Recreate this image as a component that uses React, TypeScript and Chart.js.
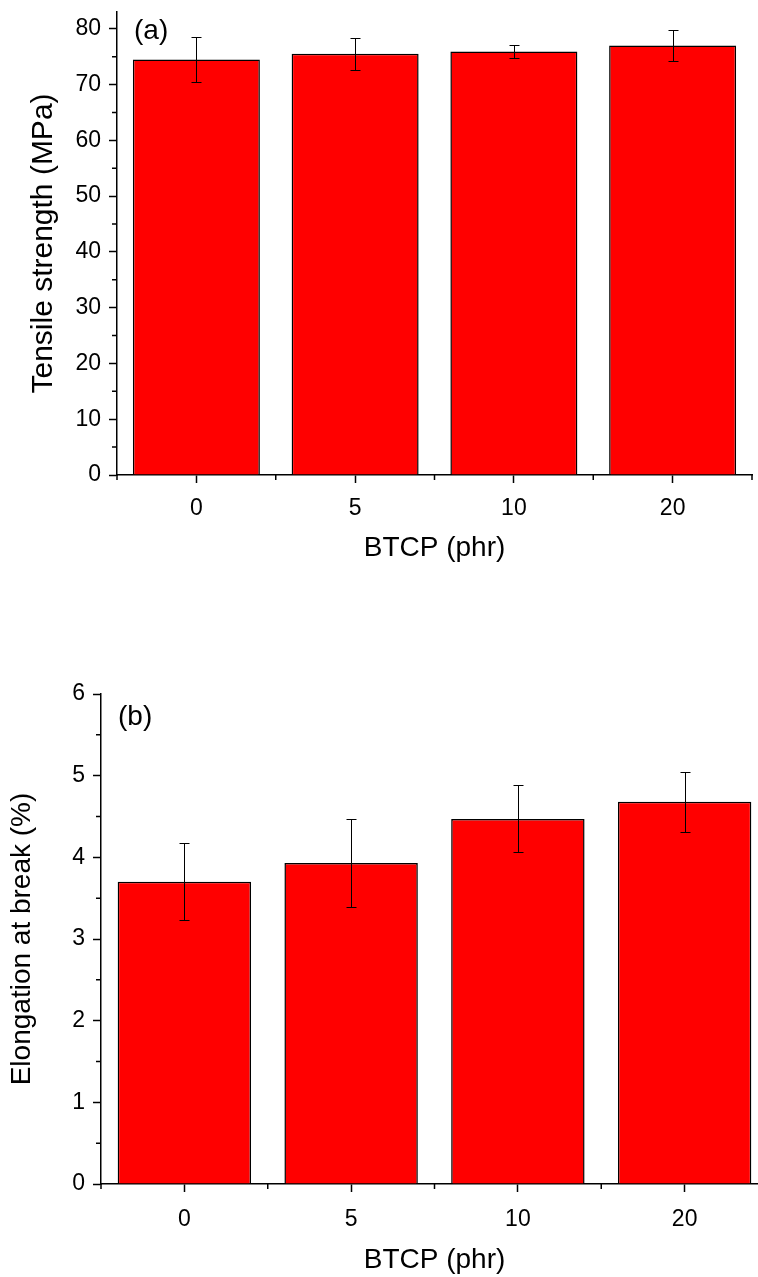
import React, { useEffect, useRef } from "react";
import { Chart, registerables } from "chart.js";

Chart.register(...registerables);

// ---- Data ----
const categories: string[] = ["0", "5", "10", "20"];
const tensileStrength: number[] = [74.5, 75.5, 75.9, 77.0];
const tensileError: number[] = [4.1, 2.85, 1.1, 2.7];
const elongation: number[] = [3.7, 3.93, 4.47, 4.68];
const elongationError: number[] = [0.47, 0.54, 0.41, 0.37];

const xTitle = "BTCP (phr)";
const yTitleA = "Tensile strength (MPa)";
const yTitleB = "Elongation at break (%)";
const panelA = "(a)";
const panelB = "(b)";

const FONT = "'Liberation Sans', Arial, Helvetica, sans-serif";

const errorBarPlugin: any = {
  id: "errorBars",
  afterDatasetsDraw(chart: any, _args: any, opts: any) {
    const errs: number[] = opts.errors;
    if (!errs) return;
    const meta = chart.getDatasetMeta(0);
    const yScale = chart.scales.y;
    const ctx = chart.ctx;
    const data = chart.data.datasets[0].data;
    ctx.save();
    ctx.strokeStyle = "#000";
    ctx.lineWidth = 1;
    meta.data.forEach((bar: any, i: number) => {
      const v = data[i];
      const e = errs[i];
      const x = Math.round(bar.x) + 0.5;
      const yt = Math.round(yScale.getPixelForValue(v + e)) + 0.5;
      const yb = Math.round(yScale.getPixelForValue(v - e)) + 0.5;
      ctx.beginPath();
      ctx.moveTo(x, yt);
      ctx.lineTo(x, yb);
      ctx.moveTo(x - 5, yt);
      ctx.lineTo(x + 5, yt);
      ctx.moveTo(x - 5, yb);
      ctx.lineTo(x + 5, yb);
      ctx.stroke();
    });
    ctx.restore();
  },
};

const minorTickPlugin: any = {
  id: "minorTicks",
  afterDraw(chart: any, _args: any, opts: any) {
    const { x, y } = chart.scales;
    const area = chart.chartArea;
    const ctx = chart.ctx;
    ctx.save();
    ctx.strokeStyle = "#000";
    ctx.lineWidth = 1.5;
    ctx.beginPath();
    const step = opts.yStep;
    for (let v = y.min + step / 2; v < y.max; v += step) {
      const py = y.getPixelForValue(v);
      ctx.moveTo(area.left - 5, py);
      ctx.lineTo(area.left, py);
    }
    const n = chart.data.labels.length;
    for (let i = 0; i <= n; i++) {
      const px = x.getPixelForValue(i - 0.5);
      ctx.moveTo(px, area.bottom);
      ctx.lineTo(px, area.bottom + 5);
    }
    ctx.stroke();
    ctx.restore();
  },
};

const panelLabelPlugin: any = {
  id: "panelLabel",
  afterDraw(chart: any, _args: any, opts: any) {
    const area = chart.chartArea;
    const ctx = chart.ctx;
    ctx.save();
    ctx.fillStyle = "#000";
    ctx.font = `28px ${FONT}`;
    ctx.textBaseline = "top";
    ctx.textAlign = "left";
    ctx.fillText(opts.text, area.left + 17, area.top + opts.dy);
    ctx.restore();
  },
};

function makeConfig(p: any): any {
  const gridOpts = {
    display: true,
    drawOnChartArea: false,
    drawTicks: true,
    tickLength: 8,
    tickWidth: 1.5,
    tickColor: "#000",
    color: "#000",
  };
  return {
    type: "bar",
    data: {
      labels: categories,
      datasets: [
        {
          data: p.values,
          backgroundColor: "#ff0000",
          borderColor: "#000",
          borderWidth: 1.5,
          barPercentage: 0.8,
          categoryPercentage: 1.0,
        },
      ],
    },
    options: {
      responsive: false,
      animation: false,
      layout: { padding: p.padding },
      plugins: {
        legend: { display: false },
        tooltip: { enabled: false },
        errorBars: { errors: p.errors },
        minorTicks: { yStep: p.yStep },
        panelLabel: { text: p.panel, dy: p.panelDy },
      },
      scales: {
        x: {
          type: "category",
          offset: true,
          grid: { ...gridOpts, offset: false },
          border: { display: true, color: "#000", width: 1.5 },
          ticks: {
            color: "#000",
            font: { family: FONT, size: 23, lineHeight: 1 },
            padding: p.xTickPad,
            maxRotation: 0,
            autoSkip: false,
          },
          title: {
            display: true,
            text: xTitle,
            color: "#000",
            font: { family: FONT, size: 28, lineHeight: 1.2 },
            padding: { top: 0, bottom: p.xTitlePad },
          },
          afterFit: (s: any) => {
            s.height = p.xAxisHeight;
            s.paddingLeft = 0;
            s.paddingRight = 0;
          },
        },
        y: {
          type: "linear",
          min: 0,
          max: p.yMax,
          grid: gridOpts,
          border: { display: true, color: "#000", width: 1.5 },
          ticks: {
            stepSize: p.yStep,
            includeBounds: false,
            color: "#000",
            font: { family: FONT, size: 23, lineHeight: 1 },
            padding: 8,
          },
          title: {
            display: true,
            text: p.yTitle,
            color: "#000",
            font: { family: FONT, size: p.yTitleSize, lineHeight: 1.2 },
            padding: { top: p.yTitlePad, bottom: 0 },
          },
          afterFit: (s: any) => {
            s.width = p.yAxisWidth;
            s.paddingTop = 0;
            s.paddingBottom = 0;
          },
        },
      },
    },
    plugins: [errorBarPlugin, minorTickPlugin, panelLabelPlugin],
  };
}

function BarPanel(props: any) {
  const ref = useRef<HTMLCanvasElement | null>(null);
  useEffect(() => {
    if (!ref.current) return;
    const chart = new Chart(ref.current, makeConfig(props.cfg));
    return () => chart.destroy();
  }, []);
  return (
    <canvas
      ref={ref}
      width={props.width}
      height={props.height}
      style={{
        position: "absolute",
        left: 0,
        top: props.top,
        width: props.width,
        height: props.height,
      }}
    />
  );
}

export default function App() {
  const cfgA = {
    values: tensileStrength,
    errors: tensileError,
    yMax: 83,
    yStep: 10,
    yTitle: yTitleA,
    yTitleSize: 30,
    yTitlePad: 26,
    yAxisWidth: 117,
    xAxisHeight: 95,
    xTickPad: 14.5,
    xTitlePad: 5,
    padding: { left: 0, top: 12, right: 18, bottom: 10 },
    panel: panelA,
    panelDy: 5,
  };
  const cfgB = {
    values: elongation,
    errors: elongationError,
    yMax: 6,
    yStep: 1,
    yTitle: yTitleB,
    yTitleSize: 28,
    yTitlePad: 5,
    yAxisWidth: 101,
    xAxisHeight: 93,
    xTickPad: 16.5,
    xTitlePad: 0,
    padding: { left: 0, top: 14, right: 12, bottom: 0 },
    panel: panelB,
    panelDy: 9,
  };
  return (
    <div
      style={{
        position: "absolute",
        left: 0,
        top: 0,
        width: 758,
        height: 1277,
        overflow: "hidden",
        background: "#fff",
      }}
    >
      <BarPanel cfg={cfgA} top={0} width={770} height={580} />
      <BarPanel cfg={cfgB} top={680} width={780} height={597} />
    </div>
  );
}
